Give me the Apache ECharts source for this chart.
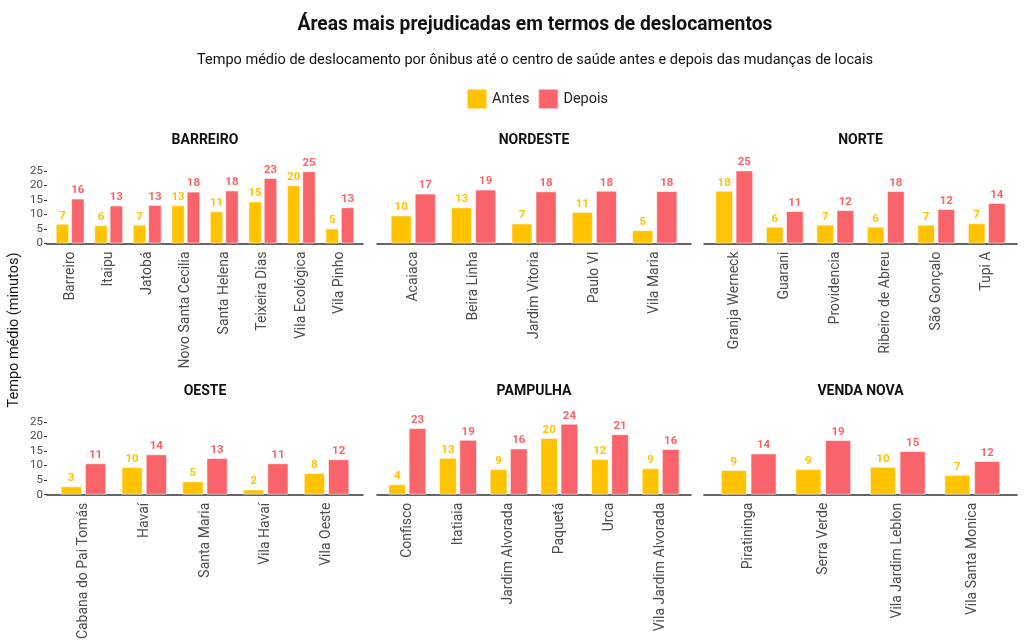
<!DOCTYPE html>
<html>
<head>
<meta charset="utf-8">
<script src="https://cdn.jsdelivr.net/npm/echarts@6/dist/echarts.min.js"></script>
<style>html,body{margin:0;padding:0;background:#fff}#c{width:1024px;height:644px}</style>
</head>
<body>
<div id="c"></div>
<script>
// ---- Data ----
const regionNames = ['BARREIRO', 'NORDESTE', 'NORTE', 'OESTE', 'PAMPULHA', 'VENDA NOVA'];

const catsBarreiro = ['Barreiro', 'Itaipu', 'Jatobá', 'Novo Santa Cecilia', 'Santa Helena', 'Teixeira Dias', 'Vila Ecológica', 'Vila Pinho'];
const antesBarreiro = [6.8, 6.3, 6.5, 13.2, 11.1, 14.5, 20.1, 5.2];
const depoisBarreiro = [15.5, 13.1, 13.3, 17.9, 18.3, 22.6, 24.9, 12.5];

const catsNordeste = ['Acaiaca', 'Beira Linha', 'Jardim Vitoria', 'Paulo VI', 'Vila Maria'];
const antesNordeste = [9.7, 12.5, 6.9, 10.9, 4.6];
const depoisNordeste = [17.2, 18.6, 18.0, 18.2, 18.1];

const catsNorte = ['Granja Werneck', 'Guarani', 'Providencia', 'Ribeiro de Abreu', 'São Gonçalo', 'Tupi A'];
const antesNorte = [18.2, 5.8, 6.5, 5.8, 6.5, 7.0];
const depoisNorte = [25.2, 11.2, 11.5, 18.1, 11.9, 14.0];

const catsOeste = ['Cabana do Pai Tomás', 'Havaí', 'Santa Maria', 'Vila Havaí', 'Vila Oeste'];
const antesOeste = [2.9, 9.5, 4.6, 1.8, 7.5];
const depoisOeste = [10.8, 13.9, 12.6, 10.8, 12.2];

const catsPampulha = ['Confisco', 'Itatiaia', 'Jardim Alvorada', 'Paquetá', 'Urca', 'Vila Jardim Alvorada'];
const antesPampulha = [3.6, 12.7, 8.8, 19.5, 12.3, 9.1];
const depoisPampulha = [22.9, 18.9, 15.9, 24.4, 20.8, 15.7];

const catsVendaNova = ['Piratininga', 'Serra Verde', 'Vila Jardim Leblon', 'Vila Santa Monica'];
const antesVendaNova = [8.5, 8.8, 9.6, 6.8];
const depoisVendaNova = [14.2, 18.8, 15.0, 11.6];

const yTicks = [0, 5, 10, 15, 20, 25];
const seriesNames = ['Antes', 'Depois'];

const mainTitle = 'Áreas mais prejudicadas em termos de deslocamentos';
const subTitle = 'Tempo médio de deslocamento por ônibus até o centro de saúde antes e depois das mudanças de locais';
const yTitle = 'Tempo médio (minutos)';

// ---- Layout / style ----
const COLORS = ['#FFC300', '#F8646A'];
const colX = [[47, 363], [377, 691], [704, 1017]];
const rowY = [[171, 243.5], [422, 494.7]];
const FONT = 'Roboto';

const panelCats = [catsBarreiro, catsNordeste, catsNorte, catsOeste, catsPampulha, catsVendaNova];
const panelAntes = [antesBarreiro, antesNordeste, antesNorte, antesOeste, antesPampulha, antesVendaNova];
const panelDepois = [depoisBarreiro, depoisNordeste, depoisNorte, depoisOeste, depoisPampulha, depoisVendaNova];

const grid = [], xAxis = [], yAxis = [], series = [], graphic = [];

regionNames.forEach((name, i) => {
  const col = i % 3, row = Math.floor(i / 3);
  const [L, R] = colX[col];
  const [T, B] = rowY[row];
  const W = R - L;
  const n = panelCats[i].length;
  const u = W / (n + 0.2);
  const inset = 0.1 * u;
  const gA = grid.length;
  grid.push({ left: L + inset, width: W - 2 * inset, top: T, height: B - T, outerBoundsMode: 'none', containLabel: false });
  const gB = grid.length;
  grid.push({ left: L, width: W, top: T, height: B - T, outerBoundsMode: 'none', containLabel: false });

  xAxis.push({
    type: 'category', gridIndex: gA, data: panelCats[i],
    axisLine: { show: false }, axisTick: { show: false },
    axisLabel: { rotate: 90, interval: 0, margin: 8, fontSize: 14, color: '#4d4d4d', fontFamily: FONT }
  });
  yAxis.push({ type: 'value', gridIndex: gA, min: 0, max: 25, show: false, splitLine: { show: false } });

  xAxis.push({
    type: 'value', gridIndex: gB, min: 0, max: 1,
    axisLine: { show: true, onZero: false, lineStyle: { color: '#333', width: 1.6 } },
    axisTick: { show: false }, axisLabel: { show: false }, splitLine: { show: false }
  });
  yAxis.push({
    type: 'value', gridIndex: gB, min: yTicks[0], max: yTicks[yTicks.length - 1], interval: 5,
    show: col === 0,
    axisLine: { show: false },
    axisTick: { show: true, length: 3, lineStyle: { color: '#333' } },
    axisLabel: { show: true, fontSize: 11.5, color: '#4d4d4d', fontFamily: FONT, margin: 4 },
    splitLine: { show: false }
  });

  [panelAntes[i], panelDepois[i]].forEach((vals, k) => {
    series.push({
      type: 'bar', name: seriesNames[k], xAxisIndex: gA, yAxisIndex: gA,
      data: vals, barWidth: '35%', barGap: '14%', clip: false,
      itemStyle: { color: COLORS[k], borderColor: 'rgba(255,255,255,0.55)', borderWidth: 1 },
      label: {
        show: true, position: 'top', distance: 2, fontSize: 11.5, fontWeight: 'bold',
        color: COLORS[k], fontFamily: FONT,
        formatter: p => String(Math.round(p.value))
      }
    });
  });

  graphic.push({
    type: 'text', x: (L + R) / 2, y: row === 0 ? 140.5 : 391.5,
    style: { text: name, fontSize: 14, fontWeight: 'bold', fill: '#111', fontFamily: FONT, textAlign: 'center', textVerticalAlign: 'middle' }
  });
});

graphic.push({
  type: 'text', x: 535, y: 25,
  style: { text: mainTitle, fontSize: 19.3, fontWeight: 'bold', fill: '#111', fontFamily: FONT, textAlign: 'center', textVerticalAlign: 'middle' }
});
graphic.push({
  type: 'text', x: 535, y: 60,
  style: { text: subTitle, fontSize: 14.5, fill: '#111', fontFamily: FONT, textAlign: 'center', textVerticalAlign: 'middle' }
});
graphic.push({
  type: 'text', x: 14, y: 330, rotation: Math.PI / 2,
  style: { text: yTitle, fontSize: 14.5, fill: '#111', fontFamily: FONT, textAlign: 'center', textVerticalAlign: 'middle' }
});

const chart = echarts.init(document.getElementById('c'), null, { renderer: 'canvas' });
chart.setOption({
  animation: false,
  backgroundColor: '#fff',
  color: COLORS,
  textStyle: { fontFamily: FONT },
  legend: {
    data: seriesNames, top: 88, left: 466, padding: 0, itemWidth: 20, itemHeight: 20, itemGap: 8, icon: 'rect',
    textStyle: { fontSize: 14.5, color: '#222', fontFamily: FONT }
  },
  grid, xAxis, yAxis, series, graphic
});
</script>
</body>
</html>
